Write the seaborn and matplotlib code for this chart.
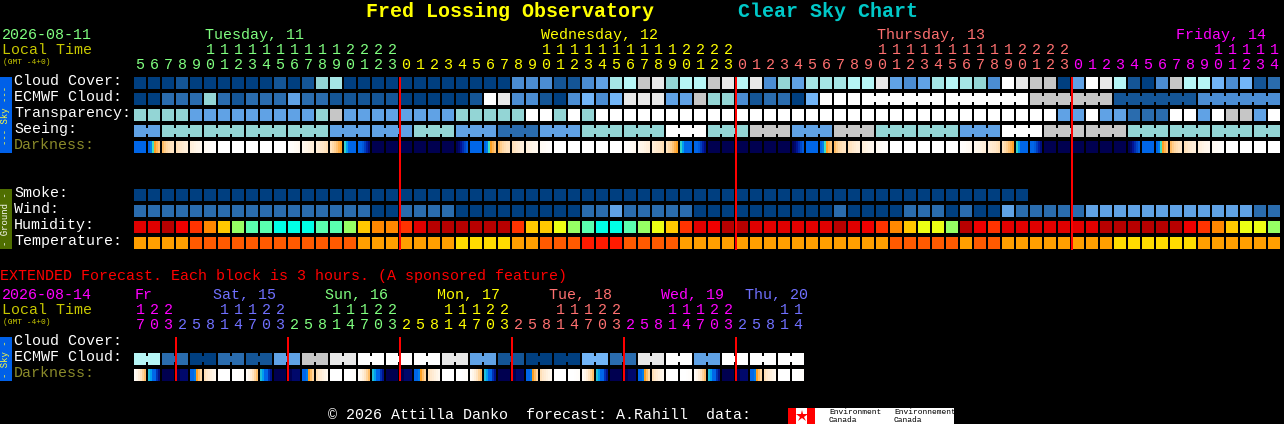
import numpy as np
import matplotlib
matplotlib.use("Agg")
import matplotlib.pyplot as plt
from matplotlib.colors import ListedColormap, LinearSegmentedColormap
import seaborn as sns

# ---------- data ----------
tue_hours = list(range(5, 24))
wed_hours = list(range(24))
thu_hours = list(range(24))
fri_hours = list(range(15))

cloud_cover = [0,0,0,1,0,0,0,0,0,0,1,0,1,6,7,0,0,0,0, 0,0,
               0,0,0,0,0,0,3,3,3,1,1,3,4,7,8,9,10,6,8,8,9,10,
               8,10,3,6,4,7,7,7,8,8,10,4,3,4,7,8,7,6,3,11,10,9,9,0,
               4,11,10,8,1,0,3,9,8,8,5,3,5,1,2]
ecmwf_cloud = [0,0,2,2,2,6,2,1,2,2,2,4,2,2,1,1,1,1,1, 0,0,
               0,0,0,1,11,10,3,3,1,0,3,5,3,5,10,10,10,4,4,9,6,6,
               3,1,2,2,0,5,11,11,11,
               11,11,11,11,11,11, 11,11,11,11,11,11, 9,9,9,9,9,9, 1,1,1,1,1,1, 3,3,3,3,3,3]
transparency = [6,6,6,6,4,4,4,4,4,4,4,4,4,6,9,4,4,4,4, 4,4,
                4,4,6,6,6,6,6,11,11,6,11,6,11,11,11,11,11,11,11,11,11,11,
                11,11,11,11,11,11,11,11,11,11,11,11,11,11,11,11,11,11,11,11,11,11,11,4,
                4,11,4,4,2,2,2,11,11,4,11,9,9,4,11]
seeing_blocks = [4, 6,6,6,6,4,4,6, 4,2,4,6,6,11,6, 9,4,9,6,6,4,11,9, 9,6,6,6, 6]
seeing_block_sizes = [2] + [3] * 26 + [2]
smoke = [0] * 64 + [np.nan] * 18
wind = [2,2,2,2,2,2,2,2,2,2,2,2,2,2,2,2,2,0,0, 2,2,
        2,2,0,0,0,0,0,0,0,0,0,2,2,4,2,2,2,2,2,0,0,0,
        0,0,0,0,0,0,0,2,0,0,0,0,2,2,2,0,2,0,0,4,2,2,2,2,
        2,4,4,4,4,4,4,4,4,4,4,4,4,2,2]
humidity = [1,1,0,2,3,4,5,7,8,8,9,9,9,8,8,7,5,4,4, 3,1,
            0,0,0,0,0,0,3,5,5,6,7,8,9,9,8,7,6,5,3,1,2,0,
            0,1,1,1,1,1,1,0,1,2,3,4,5,6,6,7,0,2,3,1,1,1,1,1,
            1,1,0,0,0,0,0,0,2,3,4,5,6,6,7]
temperature = [2,2,2,2,1,1,1,1,1,1,1,1,1,1,1,1,2,2,2, 2,2,
               2,2,3,3,3,3,2,2,1,1,1,0,0,0,1,1,1,1,2,2,2,2,
               2,2,2,2,2,2,2,2,2,2,2,1,1,1,1,1,2,1,1,2,2,2,2,2,
               2,2,2,3,3,3,3,3,3,2,2,2,2,2,2]

# darkness: one value per 2 px of a block for each hour of the day (0 = sun up, 10 = night)
darkness_by_hour = [
    [10,10,10,10,10,10],[10,10,10,10,10,10],[10,10,10,10,10,10],[10,10,10,10,10,10],
    [9.9,9.7,9.3,8.9,8.5,8.2],[8,8,8,8,8,8],[8,7.6,6,4.6,3.9,3.4],[3.7,3.2,2.8,2.5,2.3,2.2],
    [2.4,2.2,2,1.8,1.6,1.5],[1.5,1.4,1.2,1.0,.9,.8],[.6,.5,.4,.3,.2,.1],[0,0,0,0,0,0],
    [0,0,0,0,0,0],[0,0,0,0,0,0],[0,0,0,0,0,0],[0,0,0,0,0,0],
    [.1,.2,.3,.5,.6,.8],[.8,1,1.1,1.3,1.5,1.6],[1.6,1.8,2,2.1,2.3,2.5],[2.3,2.7,3.1,3.5,4,4.5],
    [6.2,7,8,8,8,8],[8,8,8.2,8.6,9.1,9.5],[10,10,10,10,10,10],[10,10,10,10,10,10],
]
ext_darkness_by_hour = {
    2: [10,10,9.7,9.7,9.7,9.7], 5: [8,8,7.6,4.6,3.6,2.9], 8: [2.4,2,1.7,1.4,1.1,.8],
    11: [0,0,0,0,0,0], 14: [0,0,0,.1,.2,.3], 17: [.4,1,1.6,2.2,3,3.6],
    20: [6.5,7,8,8,8.8,9.4], 23: [10,10,10,10,10,10],
}

ext_hours = [17,20,23] + [2,5,8,11,14,17,20,23] * 5 + [2,5,8,11,14]
ext_ecmwf_pairs = [8,2,0,2,1,4,9,10,11,11,11,10,4,1,0,0,5,2,10,11,4,11,11,11]

day_names = ["Tuesday, 11", "Wednesday, 12", "Thursday, 13", "Friday, 14"]
ext_day_names = ["Fr", "Sat, 15", "Sun, 16", "Mon, 17", "Tue, 18", "Wed, 19", "Thu, 20"]
row_labels = ["Cloud Cover:", "ECMWF Cloud:", "Transparency:", "Seeing:"]
ground_labels = ["Smoke:", "Wind:", "Humidity:", "Temperature:"]

# ---------- styles ----------
W, H = 1284, 424
GREEN, YEL, SALMON, MAG, PERI = "#80ff80", "#ffff00", "#ff7070", "#ff00ff", "#7070ff"
cloud_cmap = ListedColormap(["#003f80", "#145596", "#2a6cae", "#4b8dd3", "#60a2e5", "#72b5f7",
                             "#93d5d5", "#a5e6e6", "#b6f6f6", "#c6c6c6", "#e8e8e8", "#ffffff"])
hum_cmap = ListedColormap(["#b80000", "#e00000", "#f00000", "#ff3300", "#ff8800", "#ffc800",
                           "#ecff14", "#96ff64", "#5affaf", "#00ffe6"])
temp_cmap = ListedColormap(["#ff1a00", "#ff5a00", "#ff9f00", "#ffdc00"])
dark_cmap = LinearSegmentedColormap.from_list("dark", [
    (0, "#ffffff"), (.1, "#fff6ea"), (.2, "#ffe8cc"), (.3, "#ffd49a"), (.4, "#ffb04a"),
    (.46, "#ffa020"), (.52, "#d8d060"), (.6, "#40e0c0"), (.7, "#00a0f0"), (.8, "#0066e8"),
    (.86, "#0040c0"), (.92, "#0018a0"), (1, "#000050")])

mono = "Liberation Mono"
plt.rcParams["font.family"] = mono
plt.rcParams["text.hinting"] = "no_autohint"
fig = plt.figure(figsize=(W / 100, H / 100), dpi=100, facecolor="black")


def row_axes(x0, y0, ncells, pitch=14, h=12):
    return fig.add_axes([x0 / W, 1 - (y0 + h) / H, ncells * pitch / W, h / H])


def mask(ax, ncells, unit, joined=(), pitch=14):
    """Black gaps between blocks; joined boundaries keep a neck in the middle."""
    for k in range(ncells):
        a, b = (k + 12 / pitch) * unit, (k + 1) * unit
        if k in joined:
            ax.axvspan(a, b, ymin=0, ymax=.25, color="black", lw=0, snap=False)
            ax.axvspan(a, b, ymin=.75, ymax=1, color="black", lw=0, snap=False)
        else:
            ax.axvspan(a, b, color="black", lw=0, snap=False)


def draw_row(values, y0, cmap, vmax, x0=134, joined=()):
    ax = row_axes(x0, y0, len(values))
    vals = np.array([values], dtype=float)
    sns.heatmap(vals, ax=ax, cmap=cmap, vmin=-.5, vmax=vmax + .5, cbar=False,
                xticklabels=False, yticklabels=False, antialiased=False, linewidths=0)
    mask(ax, len(values), 1, joined)
    ax.set_axis_off()


def draw_dark(sub, y0, x0=134):
    n = len(sub)
    ax = row_axes(x0, y0, n)
    vals = np.array([[v for cell in sub for v in list(cell) + [cell[-1]]]], dtype=float)
    sns.heatmap(vals, ax=ax, cmap=dark_cmap, vmin=0, vmax=10, cbar=False,
                xticklabels=False, yticklabels=False, antialiased=False, linewidths=0)
    mask(ax, n, 7)
    ax.set_axis_off()


seeing = np.repeat(seeing_blocks, seeing_block_sizes).tolist()
edges = np.cumsum(seeing_block_sizes) - 1
see_join = [k for k in range(82) if k not in edges]
ecm_join = [k for k in range(52, 81) if (k - 52) % 6 != 5]
all_hours = tue_hours + wed_hours + thu_hours + fri_hours

draw_row(cloud_cover, 77, cloud_cmap, 11)
draw_row(ecmwf_cloud, 93, cloud_cmap, 11, joined=ecm_join)
draw_row(transparency, 109, cloud_cmap, 11)
draw_row(seeing, 125, cloud_cmap, 11, joined=see_join)
draw_dark([darkness_by_hour[h] for h in all_hours], 141)
draw_row(smoke, 189, cloud_cmap, 11)
draw_row(wind, 205, cloud_cmap, 11)
draw_row(humidity, 221, hum_cmap, 9)
draw_row(temperature, 237, temp_cmap, 3)

ext_vals = np.repeat(ext_ecmwf_pairs, 2).tolist()
draw_row(ext_vals, 353, cloud_cmap, 11, joined=list(range(0, 48, 2)))
draw_dark([ext_darkness_by_hour[h] for h in ext_hours], 369)

# ---------- overlay in pixel coordinates ----------
pix = fig.add_axes([0, 0, 1, 1], zorder=10)
pix.set_xlim(0, W)
pix.set_ylim(H, 0)
pix.set_axis_off()
pix.patch.set_alpha(0)


def T(x, y, s, c="white", px=15, **kw):
    kw.setdefault("va", "center")
    kw.setdefault("ha", "left")
    pix.text(x, y, s, color=c, fontsize=px * .72, family=mono, **kw)


T(366, 11, "Fred Lossing Observatory", YEL, 20, weight="bold")
T(738, 11, "Clear Sky Chart", "#00c8c8", 20, weight="bold")

T(2, 35, "2026-08-11", GREEN)
T(2, 50, "Local Time", "#c8c800")
T(3, 62, "(GMT -4+0)", "#c8c800", 8)
for name, x, c in zip(day_names, [205, 541, 877, 1176], [GREEN, YEL, SALMON, MAG]):
    T(x, 35, name, c)

day_cols = [GREEN] * len(tue_hours) + [YEL] * 24 + [SALMON] * 24 + [MAG] * 15
for k, (h, c) in enumerate(zip(all_hours, day_cols)):
    cx = 140 + 14 * k
    T(cx, 65, str(h % 10), c, ha="center")
    if h >= 10:
        T(cx, 50, str(h // 10), c, ha="center")

for i, lab in enumerate(row_labels):
    T(14, 81 + 16 * i, lab)
T(14, 145, "Darkness:", "#8a8a2a")
for i, lab in enumerate(ground_labels):
    T(14, 193 + 16 * i, lab)

# side bars
pix.bar(6, 76, width=12, bottom=77, color="#0060e8", lw=0)
pix.bar(6, 60, width=12, bottom=189, color="#4f6e00", lw=0)
pix.bar(6, 44, width=12, bottom=337, color="#0060e8", lw=0)
T(6, 115, "--- Sky ---", "#ffff40", 9, rotation=90, ha="center")
T(6, 219, "- Ground -", "white", 9, rotation=90, ha="center")
T(6, 359, "- Sky -", "#ffff40", 9, rotation=90, ha="center")

# day boundaries
start = len(tue_hours)
pix.bar([134 + 14 * (start + 24 * d) for d in range(3)], 173, width=2, bottom=77,
        color="#ff0000", lw=0, snap=False)
ext_starts = [3 + 8 * d for d in range(6)]
pix.bar([134 + 14 * s for s in ext_starts], 44, width=2, bottom=337,
        color="#ff0000", lw=0, snap=False)

# extended block
T(0, 276, "EXTENDED Forecast. Each block is 3 hours. (A sponsored feature)", "#ff0000")
T(2, 295, "2026-08-14", MAG)
T(2, 310, "Local Time", "#c8c800")
T(3, 322, "(GMT -4+0)", "#c8c800", 8)
ext_cols = [MAG, PERI, GREEN, YEL, SALMON, MAG, PERI]
for name, x, c in zip(ext_day_names, [135, 213, 325, 437, 549, 661, 745], ext_cols):
    T(x, 295, name, c)
day_idx = np.repeat(range(7), [3, 8, 8, 8, 8, 8, 5])
for k, (h, d) in enumerate(zip(ext_hours, day_idx)):
    cx = 140 + 14 * k
    T(cx, 325, str(h % 10), ext_cols[d], ha="center")
    if h >= 10:
        T(cx, 310, str(h // 10), ext_cols[d], ha="center")
T(14, 341, "Cloud Cover:")
T(14, 357, "ECMWF Cloud:")
T(14, 373, "Darkness:", "#8a8a2a")

# footer
T(328, 415, "\u00a9 2026 Attilla Danko  forecast: A.Rahill  data:")
pix.bar(871, 16, width=166, bottom=408, color="white", lw=0)
pix.bar(792, 16, width=8, bottom=408, color="#ff0000", lw=0)
pix.bar(811, 16, width=8, bottom=408, color="#ff0000", lw=0)
pix.plot([801.5], [416], marker="*", ms=9, color="#ff0000", mew=0)
for x, s in [(829, "Environment"), (894, "Environnement")]:
    T(x, 412, s, "black", 8)
    T(x, 420, "Canada", "black", 8)

fig.savefig("out.png", dpi=100, facecolor="black")
